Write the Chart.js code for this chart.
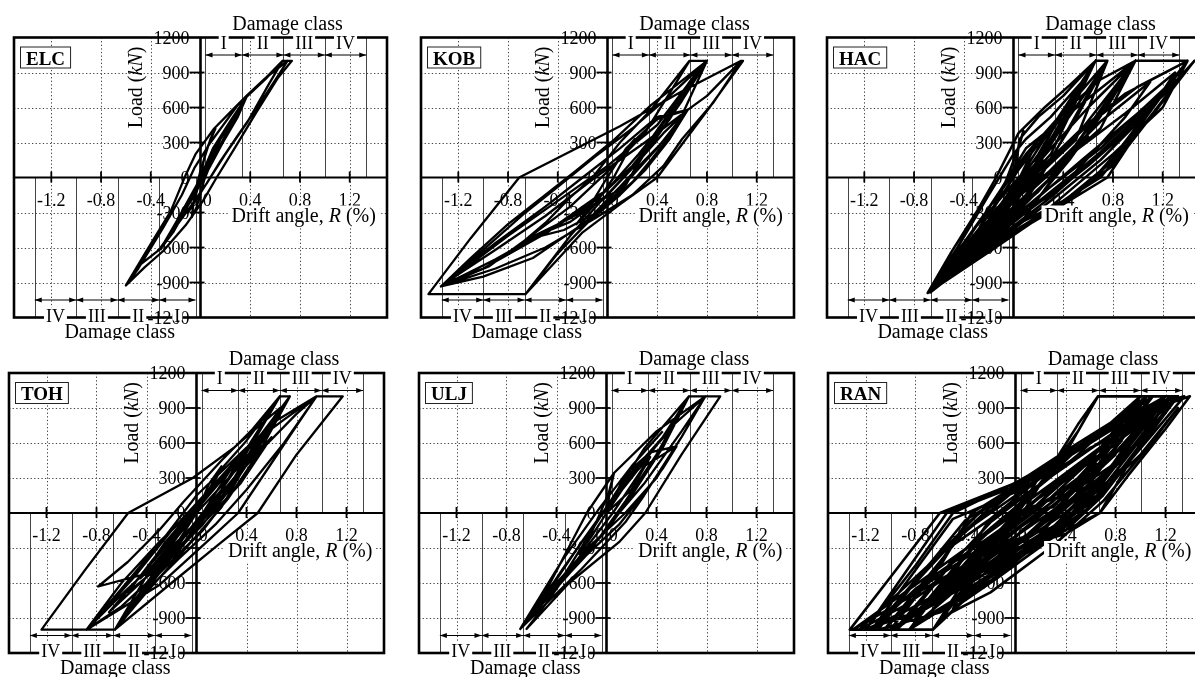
<!DOCTYPE html>
<html>
<head>
<meta charset="utf-8">
<script src="https://cdn.jsdelivr.net/npm/chart.js@4.4.1/dist/chart.umd.min.js"></script>
<style>
  html, body { margin: 0; padding: 0; background: #fff; width: 1195px; height: 677px; overflow: hidden; position: relative; }
  canvas { position: absolute; }
</style>
</head>
<body>
<canvas id="c-elc"></canvas>
<canvas id="c-kob"></canvas>
<canvas id="c-hac"></canvas>
<canvas id="c-toh"></canvas>
<canvas id="c-ulj"></canvas>
<canvas id="c-ran"></canvas>
<script>
// axis ticks and damage classes
const driftTicks = [-1.2, -0.8, -0.4, 0, 0.4, 0.8, 1.2];
const driftTickLabels = ['-1.2', '-0.8', '-0.4', '0.0', '0.4', '0.8', '1.2'];
const loadTicks = [-1200, -900, -600, -300, 0, 300, 600, 900, 1200];
const classBounds = [0.04, 0.333, 0.667, 1.0, 1.333];
const classNames = ['I', 'II', 'III', 'IV'];

// hysteresis paths, [drift %, load kN]
const elcPath = [
  [0,0],[0.04,220],[0.12,420],[0.08,330],[0,60],[-0.05,-160],[-0.07,-340],[-0.03,-250],[0.03,-20],
  [0.16,330],[0.28,540],[0.37,690],[0.3,560],[0.16,280],[0.05,90],[-0.08,-160],[-0.2,-390],[-0.32,-610],
  [-0.22,-470],[-0.09,-220],[0,-40],[0.12,260],[0.25,480],[0.37,690],[0.52,840],[0.66,1000],[0.735,1000],
  [0.62,850],[0.45,560],[0.28,260],[0.13,0],[0.02,-200],[-0.12,-410],[-0.3,-630],[-0.45,-770],[-0.6,-925],
  [-0.44,-640],[-0.24,-290],[-0.12,20],[-0.04,200],[0.11,420],[0.24,560],[0.37,700],[0.52,850],[0.7,1000],
  [0.64,900],[0.47,620],[0.3,360],[0.16,140],[0.05,-50],[-0.06,-220],[-0.17,-380],[-0.32,-600],[-0.2,-420],
  [-0.07,-170],[0.1,250],[0.25,500],[0.37,690],[0.3,520],[0.18,300],[0.08,100],[-0.05,-150],[-0.18,-380],
  [-0.32,-610],[-0.5,-760],[-0.6,-925],[-0.5,-780],[-0.3,-430],[-0.15,-150],[-0.05,80],[0.08,300],
  [0.3,620],[0.55,880],[0.66,1000],[0.55,800],[0.38,480],[0.2,200],[0.08,0],[-0.1,-300],[-0.05,-200],[0,0]
];
const kobPath = [
  [0,0],[0.1,180],[0.22,330],[0.15,200],[0.05,0],[-0.1,-230],[-0.25,-400],[-0.15,-260],[-0.02,-30],
  [0.15,250],[0.4,500],[0.645,580],[0.55,420],[0.35,150],[0.2,-40],[-0.05,-280],[-0.35,-450],[-0.66,-535],
  [-0.5,-390],[-0.3,-170],[-0.12,0],[0.1,300],[0.35,580],[0.66,1000],[0.79,1000],[0.66,820],[0.45,470],
  [0.25,120],[0.08,-160],[-0.2,-400],[-0.6,-690],[-1.0,-850],[-1.34,-934],[-1.1,-690],[-0.8,-400],[-0.5,-150],
  [-0.25,60],[0.05,320],[0.35,620],[0.8,1000],[0.62,740],[0.35,330],[0.15,-60],[-0.1,-320],[-0.4,-650],
  [-0.66,-1000],[-0.3,-500],[-0.05,-200],[0.2,80],[0.45,380],[0.645,580],[0.8,700],[1.03,950],[1.075,1000],
  [1.09,1000],[0.82,600],[0.4,0],[0.1,-230],[-0.2,-470],[-0.66,-1000],[-1.44,-1000],[-1.1,-520],[-0.71,0],
  [0.1,440],[0.6,740],[1.075,1000],[0.85,640],[0.6,330],[0.45,100],[0.2,-150],[-0.1,-350],[-0.5,-600],
  [-0.9,-780],[-1.34,-934],[-1.0,-620],[-0.66,-300],[-0.4,-80],[-0.1,180],[0.2,420],[0.5,700],[0.8,1000],
  [0.6,660],[0.4,350],[0.2,80],[0,-150],[-0.3,-380],[-0.66,-535],[-0.95,-760],[-1.34,-934],[-0.9,-560],
  [-0.5,-250],[-0.2,0],[0.1,250],[0.4,520],[0.645,580],[0.5,330],[0.3,60],[0.1,-150],[-0.2,-420],
  [-0.1,-300],[0.1,-80],[0.3,150],[0.55,420],[0.8,1000],
  [0.55,600],[0.25,200],[0,-100],[-0.4,-400],[-0.9,-700],[-1.34,-934],[-0.8,-500],[-0.4,-200],[0,100],
  [0.4,450],[0.79,1000],[0.5,500],[0.2,100],[-0.1,-200],[-0.5,-480],[-1.0,-780],[-1.3,-900],[-0.9,-620],
  [-0.5,-330],[-0.1,0],[0.3,300],[0.645,580],[0.4,250],[0.1,-100],[-0.3,-350],[-0.66,-535],[-0.3,-250],
  [0,50],[0.3,380],[0.66,1000]
];
const hacPath = [
  [0,0],[0.04,250],[0.08,400],[0.03,230],[-0.05,0],[-0.15,-250],[-0.27,-420],[-0.14,-230],[0,0],
  [0.05,330],[0.2,520],[0.4,700],[0.66,1000],[0.52,760],[0.3,380],[0.12,0],[-0.15,-380],[-0.4,-650],
  [-0.69,-990],[-0.5,-640],[-0.3,-300],[-0.14,0],[0.04,380],[0.25,600],[0.45,790],[0.66,1000],[0.755,1000],
  [0.6,720],[0.4,340],[0.2,-30],[-0.05,-440],[-0.35,-720],[-0.69,-990],[-0.25,-400],[0.05,80],[0.4,560],
  [0.7,840],[0.98,1000],[1.4,1000],[1.2,730],[0.95,330],[0.7,0],[0.4,-200],[0.05,-430],[-0.3,-690],
  [-0.69,-990],[-0.3,-580],[0.1,-150],[0.5,280],[0.98,1000],[0.8,720],[0.55,300],[0.32,0],[0.05,-400],
  [-0.3,-700],[-0.69,-990],[-0.2,-580],[0.3,-170],[0.8,300],[1.2,700],[1.455,1000],[1.25,730],[0.96,330],
  [0.755,0],[0.4,-230],[0,-480],[-0.35,-720],[-0.67,-985],[-0.35,-640],[0.1,-260],[0.55,150],[1.0,550],
  [1.3,850],[1.1,620],[0.7,220],[0.4,-60],[0,-380],[-0.3,-640],[-0.6,-900],[-0.3,-500],[0,-150],[0.3,200],
  [0.66,1000],[0.4,560],[0.2,200],[0,-100],[-0.2,-350],[-0.1,-100],[0.1,250],[0.98,1000],[0.6,420],[0.3,0],
  [0,-300],[-0.2,-500],[-0.4,-760],[-0.69,-990],[-0.45,-600],[-0.2,-150],[0,200],[0.1,330],
  [0.3,520],[0.55,820],[0.66,1000],[0.45,600],[0.2,100],[0,-250],[-0.3,-600],[-0.69,-990],[-0.4,-680],
  [-0.1,-300],[0.2,50],[0.6,450],[1.0,780],[1.4,1000],[1.1,600],[0.8,150],[0.5,-150],[0.1,-400],
  [-0.3,-660],[-0.69,-990],[-0.35,-500],[-0.1,-100],[0.1,200],[0.35,500],[0.755,1000],[0.5,500],[0.25,80],
  [0,-300],[-0.3,-620],[-0.69,-990],[-0.1,-450],[0.4,-50],[0.9,400],[1.3,800],[1.455,1000],[1.15,580],
  [0.8,100],[0.4,-200],[0,-420],[-0.4,-720],[-0.69,-990],[-0.2,-520],[0.25,-120],[0.7,250],[1.05,600],
  [0.9,380],[0.6,100],[0.3,-150],[0,-350],[-0.25,-550],[0,-250],[0.3,40],[0.7,420],[0.98,1000],[0.7,580],
  [0.45,200],[0.2,-120],[-0.1,-400],[-0.4,-700],[-0.2,-380],[0.05,0],[0.2,330],
  [-0.69,-990],[-0.3,-420],[0,-50],[0.3,300],[0.66,1000],[0.4,450],[0.1,-50],[-0.2,-500],[-0.69,-990],
  [-0.25,-480],[0.1,-100],[0.5,350],[0.98,1000],[0.75,600],[0.45,150],[0.1,-300],[-0.3,-640],[-0.69,-990],
  [-0.2,-620],[0.3,-250],[0.8,200],[1.2,600],[1.4,1000],[1.0,420],[0.6,-60],[0.2,-350],[-0.2,-640],
  [-0.69,-990],[-0.35,-560],[0,-200],[0.4,150],[0.9,550],[1.3,900],[1.1,580],[0.7,150],[0.3,-200],
  [-0.1,-520],[-0.5,-850],[-0.2,-460],[0.1,-80],[0.5,320],[0.755,1000],[0.5,600],[0.2,150],[-0.1,-300],
  [-0.45,-760],[-0.1,-350],[0.25,0],[0.7,480],[1.1,820],[0.9,520],[0.5,50],[0.15,-250],[-0.2,-560],
  [-0.69,-990],[-0.15,-300],[0.2,150],[0.45,600],[0.66,1000],
  [0.35,500],[0.05,0],[-0.25,-450],[-0.69,-990],[-0.3,-520],[0,-120],[0.3,250],[0.6,600],[0.98,1000],
  [0.65,500],[0.35,50],[0,-330],[-0.35,-650],[-0.1,-280],[0.2,60],[0.55,420],[0.9,720],[1.4,1000],
  [1.05,520],[0.75,100],[0.35,-250],[-0.05,-520],[-0.45,-800],[-0.1,-400],[0.2,-50],[0.6,350],[0.4,100],
  [0.1,-200],[-0.2,-450],[0,-200],[0.25,150]
];
const tohPath = [
  [0,0],[0.1,250],[0.2,400],[0.1,200],[0,0],[-0.15,-250],[-0.3,-420],[-0.15,-200],[0,0],
  [0.2,380],[0.4,620],[0.667,1000],[0.55,800],[0.3,380],[0.15,100],[-0.1,-250],[-0.4,-520],[-0.787,-630],
  [-0.55,-420],[-0.3,-150],[-0.1,100],[0.2,450],[0.45,720],[0.667,1000],[0.747,1000],[0.6,760],[0.35,330],
  [0.2,50],[-0.1,-320],[-0.4,-680],[-0.653,-1000],[-0.5,-780],[-0.2,-350],[0.05,0],[0.35,500],[0.65,800],
  [0.96,1000],[0.82,780],[0.333,0],[0.1,-230],[-0.3,-620],[-0.88,-1000],[-0.6,-650],[-0.25,-200],[0,150],
  [0.4,560],[0.7,800],[0.96,1000],[1.17,1000],[0.8,500],[0.49,0],[0.2,-250],[-0.2,-600],[-0.653,-1000],
  [-1.24,-1000],[-0.9,-500],[-0.547,0],[-0.03,300],[0.3,560],[0.667,900],[0.5,620],[0.25,200],[0.1,0],
  [-0.2,-300],[-0.45,-560],[-0.25,-250],[0.05,120],[0.3,420],[0.5,650],[0.3,300],[0,-80],
  [-0.3,-400],[-0.6,-700],[-0.88,-1000],[-0.6,-600],[-0.3,-250],[0,50],[0.3,400],[0.6,780],[0.747,1000],
  [0.55,650],[0.3,250],[0.05,-100],[-0.25,-420],[-0.55,-680],[-0.35,-400],[-0.1,-80],[0.15,250],[0.4,500],
  [0.2,200],[-0.05,-150],[-0.3,-450],[-0.653,-1000],[-0.4,-600],[-0.1,-200],[0.2,180],[0.5,520],[0.8,850],
  [0.96,1000],[0.7,600],[0.4,200],[0.15,-100],[-0.15,-400],[-0.45,-720],[-0.2,-380],[0.1,0],[0.35,350],
  [0.6,650],[0.35,250],[0,-150],
  [-0.3,-500],[-0.6,-800],[-0.88,-1000],[-0.5,-550],[-0.2,-150],[0.1,200],[0.4,550],[0.667,1000],
  [0.45,600],[0.2,200],[-0.1,-200],[-0.4,-550],[-0.7,-850],[-0.4,-480],[-0.1,-100],[0.2,280],[0.5,650],
  [0.747,1000],[0.5,520],[0.25,120],[0,-200],[-0.3,-520],[-0.653,-1000],[-0.35,-450],[0,0],[0.3,350],
  [0.55,600],[0.3,200],[0.05,-150],[-0.2,-420],[0,-100],[0.2,150]
];
const uljPath = [
  [0,0],[0.03,200],[0.06,343],[0.02,180],[-0.05,0],[-0.15,-240],[-0.22,-350],[-0.12,-200],[0,0],
  [0.15,330],[0.35,520],[0.56,571],[0.45,380],[0.25,100],[0.1,-100],[-0.15,-350],[-0.35,-550],[-0.25,-380],
  [-0.1,-120],[0.06,150],[0.3,550],[0.66,1000],[0.79,1000],[0.6,700],[0.3,250],[0.1,0],[-0.2,-400],
  [-0.69,-994],[-0.5,-700],[-0.158,0],[0.06,343],[0.4,700],[0.79,1000],[0.6,650],[0.3,150],[0.15,-80],
  [-0.2,-480],[-0.69,-994],[-0.4,-560],[-0.1,-100],[0.2,300],[0.5,720],[0.79,1000],[0.91,1000],[0.6,500],
  [0.31,0],[0.1,-250],[-0.3,-600],[-0.64,-994],[-0.5,-800],[-0.2,-350],[0.05,0],[0.3,400],[0.56,571],
  [0.4,300],[0.15,0],[-0.15,-300],[-0.4,-600],[-0.69,-994],[-0.45,-650],[-0.2,-250],[0,50],[0.2,350],
  [0.45,650],[0.66,1000],[0.45,560],[0.2,150],[0,-150],[-0.3,-500],[-0.55,-800],[-0.35,-480],[-0.1,-100],
  [0.1,200],[0.35,480],[0.2,200],[0,0],
  [0.25,400],[0.5,700],[0.66,1000],[0.4,500],[0.15,100],[-0.15,-350],[-0.5,-750],[-0.69,-994],[-0.35,-400],
  [-0.05,50],[0.2,400],[0.45,700]
];
const ranPath = [
  [0,0],[0.1,220],[0.2,330],[0.1,150],[-0.05,-100],[-0.2,-300],[-0.1,-150],[0.05,50],[0.3,400],[0.5,700],
  [0.66,1000],[0.5,760],[0.2,250],[0,-100],[-0.3,-400],[-0.66,-1000],[-0.4,-620],[-0.1,-150],[0.1,150],
  [0.5,500],[1.0,1000],[0.85,760],[0.4,100],[0.1,-200],[-0.3,-500],[-0.85,-1000],[-0.5,-520],[-0.2,-50],
  [0.2,300],[0.6,620],[1.05,1000],[0.8,620],[0.5,180],[0.2,-180],[-0.3,-560],[-1.0,-1000],[-0.65,-500],
  [-0.4,-100],[0,250],[0.5,600],[1.1,1000],[0.9,720],[0.55,180],[0.3,-150],[-0.2,-500],[-1.2,-1000],
  [-0.8,-450],[-0.5,0],[0,260],[0.6,620],[1.2,1000],[1.0,730],[0.6,150],[0.35,-130],[-0.1,-440],
  [-0.66,-1000],[-1.325,-1000],[-0.95,-480],[-0.605,0],[0,257],[0.35,420],[0.66,1000],[1.3,1000],[1.0,600],
  [0.675,0],[0.3,-200],[0,-257],[-0.3,-500],[-0.66,-1000],[-1.0,-1000],[-0.6,-450],[-0.35,0],[0.1,300],
  [0.8,780],[1.395,1000],[1.2,720],[0.9,320],[0.675,0],[0.4,-180],[0,-300],[-0.35,-560],[-0.66,-1000],
  [-0.3,-620],[0.2,-250],[0.6,100],[1.0,500],[1.3,900],[1.1,620],[0.7,100],[0.3,-280],[-0.2,-680],
  [-0.6,-900],[-0.25,-480],[0.3,-30],[0.8,420],[1.15,800],[0.85,380],[0.4,-60],[-0.1,-400],[-0.9,-900],
  [-1.1,-950],[-0.7,-450],[-0.2,100],[0.3,380],[0,0],
  [-0.3,-350],[-0.66,-780],[-1.0,-1000],[-0.7,-560],[-0.45,-200],[-0.2,50],[0.2,350],[0.7,700],[1.2,1000],
  [0.95,650],[0.55,100],[0.2,-250],[-0.2,-580],[-0.6,-850],[-1.1,-1000],[-0.75,-520],[-0.4,-60],[0,200],
  [0.45,500],[0.9,800],[1.3,1000],[1.05,640],[0.7,150],[0.4,-150],[0,-400],[-0.4,-700],[-0.85,-1000],
  [-0.55,-560],[-0.2,-130],[0.2,180],[0.65,520],[1.05,860],[0.8,450],[0.45,0],[0.1,-300],[-0.3,-620],
  [-0.7,-880],[-0.35,-380],[0,-30],[0.4,330],[0.85,680],[1.25,950],[1.0,560],[0.6,60],[0.25,-250],
  [-0.15,-560],[-0.5,-820],[-0.2,-300],[0.15,100],[0.55,400],[1.0,760],[0.7,300],[0.3,-120],[-0.1,-450],
  [-0.45,-700],[-0.1,-200],[0.3,200],[0.75,560],[1.1,870],[0.8,400],[0.5,-20],[0.15,-300],[-0.25,-500],
  [0.05,-150],[0.4,150],[0.8,500],[0.5,200],[0,0],
  [-1.3,-1000],[0,-200],[0.9,600],[1.3,1000],[0.9,500],[0,-150],[-0.9,-800],[-1.25,-1000],[-0.6,-350],
  [0,100],[0.8,700],[1.2,1000],[0.7,400],[0,-50],[-0.8,-650],[-1.15,-1000],[-0.5,-250],[0,200],[0.7,700],
  [1.1,1000],[0.5,300],[0,-100],[-0.7,-600],[-1.05,-1000],[-0.4,-150],[0,150],[0.6,620],[1.0,1000],
  [0.6,450],[0.2,50],[-0.3,-350],[-0.95,-1000],[-0.5,-400],[0,50],[0.5,550],[1.05,1000],[0.75,550],
  [0.3,100],[-0.2,-300],[-0.8,-900],[-0.4,-450],[0.1,50],[0.6,500],[1.25,1000],[0.85,450],[0.4,0],
  [-0.1,-350],[-0.7,-800],[-0.3,-300],[0.2,150],[0.75,600],[1.15,900],[0.8,420],[0.2,-150],[-0.4,-550],
  [-0.9,-950],[-0.45,-350],[0,0],
  [-0.4,-500],[-0.8,-850],[-1.2,-1000],[-0.55,0],[0,230],[0.5,560],[1.0,900],[1.35,1000],[1.1,680],
  [0.8,300],[0.5,-50],[0,-230],[-0.5,-620],[-1.15,-1000],[-0.5,-50],[0,180],[0.4,420],[0.9,760],
  [1.25,1000],[0.95,560],[0.6,80],[0.2,-180],[-0.3,-520],[-0.8,-870],[-0.4,-350],[-0.1,-50],[0.3,260],
  [0.7,580],[1.0,850],[0.75,480],[0.35,60],[0,-200],[-0.45,-560],[-0.95,-980],[-0.55,-480],[-0.2,-80],
  [0.2,250],[0.6,560],[0.9,700],[0.6,260],[0.2,-100],[-0.2,-420],[-0.6,-750],[-0.25,-350],[0.1,0],
  [0.5,380],[0.85,620],[0.5,220],[0.1,-180],[-0.35,-480],[-0.05,-200],[0.3,100],[0.65,420],[0.3,50],[0,0]
];

const SERIF = '"Liberation Serif", "Times New Roman", serif';

function seg(ctx, x1, y1, x2, y2) {
  ctx.beginPath(); ctx.moveTo(x1, y1); ctx.lineTo(x2, y2); ctx.stroke();
}

function richWidth(ctx, parts, size) {
  let w = 0;
  parts.forEach(([t, it]) => { ctx.font = (it ? 'italic ' : '') + size + 'px ' + SERIF; w += ctx.measureText(t).width; });
  return w;
}

function richText(ctx, parts, cx, y, size) {
  let x = cx - richWidth(ctx, parts, size) / 2;
  ctx.textAlign = 'left';
  parts.forEach(([t, it]) => {
    ctx.font = (it ? 'italic ' : '') + size + 'px ' + SERIF;
    ctx.fillText(t, x, y);
    x += ctx.measureText(t).width;
  });
}

function arrow(ctx, xa, xb, py) {
  seg(ctx, xa, py, xb, py);
  [[xa, -1], [xb, 1]].forEach(([px, d]) => {
    ctx.beginPath();
    ctx.moveTo(px, py); ctx.lineTo(px - d * 7, py - 2.5); ctx.lineTo(px - d * 7, py + 2.5);
    ctx.closePath(); ctx.fill();
  });
}

function boxedLabel(ctx, text, cx, baseline, top, bottom) {
  const w = ctx.measureText(text).width;
  ctx.fillStyle = '#fff';
  ctx.fillRect(cx - w / 2 - 2, top, w + 4, bottom - top);
  ctx.fillStyle = '#000';
  ctx.fillText(text, cx, baseline);
}

const decor = {
  id: 'decor',
  beforeDatasetsDraw(chart) {
    const {ctx, chartArea: a, scales: {x, y}} = chart;
    const x0 = x.getPixelForValue(0), y0 = y.getPixelForValue(0);
    ctx.save();
    // dotted grid
    ctx.strokeStyle = '#444'; ctx.lineWidth = 1; ctx.setLineDash([1.3, 2.3]);
    driftTicks.forEach(v => {
      if (v === 0) return;
      const px = Math.round(x.getPixelForValue(v)) + 0.5;
      seg(ctx, px, a.top, px, a.bottom);
    });
    loadTicks.forEach(v => {
      if (v === 0 || Math.abs(v) === 1200) return;
      const py = Math.round(y.getPixelForValue(v)) + 0.5;
      seg(ctx, a.left, py, a.right, py);
    });
    ctx.setLineDash([]);
    // damage class boundaries
    ctx.strokeStyle = '#444'; ctx.lineWidth = 1;
    classBounds.forEach(b => {
      let px = Math.round(x.getPixelForValue(b)) + 0.5;
      seg(ctx, px, y0, px, a.top);
      px = Math.round(x.getPixelForValue(-b)) + 0.5;
      seg(ctx, px, y0, px, a.bottom);
    });
    // tick labels
    ctx.fillStyle = '#000';
    ctx.font = '18px ' + SERIF;
    ctx.textBaseline = 'alphabetic';
    ctx.textAlign = 'right';
    loadTicks.forEach(v => ctx.fillText(String(v), x0 - 11, y.getPixelForValue(v) + 6));
    ctx.textAlign = 'center';
    driftTicks.forEach((v, i) => ctx.fillText(driftTickLabels[i], x.getPixelForValue(v), y0 + 28));
    // load title
    ctx.save();
    ctx.translate(x0 - 59, y0 - 90);
    ctx.rotate(-Math.PI / 2);
    richText(ctx, [['Load (', false], ['kN', true], [')', false]], 0, 0, 20);
    ctx.restore();
    ctx.restore();
  },
  afterDatasetsDraw(chart, args, opts) {
    const {ctx, chartArea: a, scales: {x, y}} = chart;
    const x0 = x.getPixelForValue(0), y0 = y.getPixelForValue(0);
    ctx.save();
    ctx.strokeStyle = '#000'; ctx.fillStyle = '#000';
    // axes
    ctx.lineWidth = 2; seg(ctx, a.left, y0, a.right, y0);
    ctx.lineWidth = 2.6; seg(ctx, x0, a.top, x0, a.bottom);
    ctx.lineWidth = 1.8;
    driftTicks.forEach(v => { if (v !== 0) { const px = x.getPixelForValue(v); seg(ctx, px, y0 - 6, px, y0 + 5); } });
    loadTicks.forEach(v => { if (v !== 0 && Math.abs(v) !== 1200) { const py = y.getPixelForValue(v); seg(ctx, x0 - 11, py, x0 + 4, py); } });
    // frame
    ctx.lineWidth = 2.6;
    ctx.strokeRect(a.left, a.top, a.right - a.left, a.bottom - a.top);
    // damage class arrows
    ctx.lineWidth = 1;
    const yTop = y.getPixelForValue(1050), yBot = y.getPixelForValue(-1050);
    for (let i = 0; i < classNames.length; i++) {
      arrow(ctx, x.getPixelForValue(classBounds[i]), x.getPixelForValue(classBounds[i + 1]), yTop);
      arrow(ctx, x.getPixelForValue(-classBounds[i + 1]), x.getPixelForValue(-classBounds[i]), yBot);
    }
    ctx.font = '18px ' + SERIF; ctx.textAlign = 'center'; ctx.textBaseline = 'alphabetic';
    for (let i = 0; i < classNames.length; i++) {
      const cp = x.getPixelForValue((classBounds[i] + classBounds[i + 1]) / 2);
      boxedLabel(ctx, classNames[i], cp, a.top + 11, a.top - 3, a.top + 12);
      const cn = x.getPixelForValue(-(classBounds[i] + classBounds[i + 1]) / 2);
      boxedLabel(ctx, classNames[i], cn, a.bottom + 4, a.bottom - 10, a.bottom + 3);
    }
    // titles
    ctx.fillStyle = '#000';
    ctx.font = '20px ' + SERIF;
    ctx.fillText('Damage class', x.getPixelForValue(0.70), a.top - 8);
    ctx.fillText('Damage class', x.getPixelForValue(-0.65), a.bottom + 20.5);
    const driftParts = [['Drift angle, ', false], ['R', true], [' (%)', false]];
    const dw = richWidth(ctx, driftParts, 20);
    const dc = x.getPixelForValue(0.83);
    ctx.fillStyle = '#fff';
    ctx.fillRect(dc - dw / 2 - 3, y0 + 28, dw + 6, 22);
    ctx.fillStyle = '#000';
    richText(ctx, driftParts, dc, y0 + 44, 20);
    // record name
    ctx.font = 'bold 19px ' + SERIF;
    const nw = ctx.measureText(opts.name).width;
    ctx.fillStyle = '#fff';
    ctx.fillRect(a.left + 6, a.top + 9, nw + 12, 22);
    ctx.lineWidth = 1; ctx.strokeStyle = '#222';
    ctx.strokeRect(a.left + 6.5, a.top + 9.5, nw + 11, 21);
    ctx.fillStyle = '#000'; ctx.textAlign = 'center';
    ctx.fillText(opts.name, a.left + 12 + nw / 2, a.top + 27);
    ctx.restore();
  }
};

const panels = [
  {id: 'c-elc', name: 'ELC', path: elcPath, lw: 2.3, left: 14, top: 0, w: 373, h: 340, pt: 37.5, pb: 22.5},
  {id: 'c-kob', name: 'KOB', path: kobPath, lw: 2.3, left: 421, top: 0, w: 373, h: 340, pt: 37.5, pb: 22.5},
  {id: 'c-hac', name: 'HAC', path: hacPath, lw: 2.5, left: 827, top: 0, w: 373, h: 340, pt: 37.5, pb: 22.5},
  {id: 'c-toh', name: 'TOH', path: tohPath, lw: 2.3, left: 9, top: 340, w: 375, h: 337, pt: 33, pb: 24},
  {id: 'c-ulj', name: 'ULJ', path: uljPath, lw: 2.3, left: 419, top: 340, w: 375, h: 337, pt: 33, pb: 24},
  {id: 'c-ran', name: 'RAN', path: ranPath, lw: 2.6, left: 828, top: 340, w: 375, h: 337, pt: 33, pb: 24}
];

panels.forEach(p => {
  const el = document.getElementById(p.id);
  el.width = p.w + 28;
  el.height = p.h;
  el.style.left = (p.left - 14) + 'px';
  el.style.top = p.top + 'px';
  new Chart(el, {
    type: 'scatter',
    data: {
      datasets: [{
        data: p.path.map(([d, l]) => ({x: d, y: l})),
        showLine: true,
        borderColor: '#000',
        borderWidth: p.lw,
        borderJoinStyle: 'round',
        pointRadius: 0,
        tension: 0
      }]
    },
    options: {
      responsive: false,
      animation: false,
      events: [],
      layout: { padding: { left: 14, right: 14, top: p.pt, bottom: p.pb } },
      scales: {
        x: { type: 'linear', min: -1.5, max: 1.5, display: false },
        y: { type: 'linear', min: -1200, max: 1200, display: false }
      },
      plugins: { legend: { display: false }, tooltip: { enabled: false }, decor: { name: p.name } }
    },
    plugins: [decor]
  });
});
</script>
</body>
</html>
